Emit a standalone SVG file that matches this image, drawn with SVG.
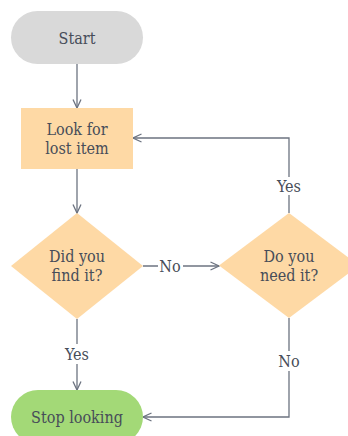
<svg xmlns="http://www.w3.org/2000/svg" width="348" height="436" viewBox="0 0 348 436">
<style>
.t{font-family:"DejaVu Serif Condensed","DejaVu Serif","Liberation Serif",serif;font-stretch:condensed;font-size:16px;fill:#474d59;text-anchor:middle;dominant-baseline:central}
.c{fill:none;stroke:#6c7380;stroke-width:1.3}
.lb{fill:#ffffff}
</style>
<defs>
<marker id="ah" viewBox="0 0 10 10" refX="9.5" refY="5" markerWidth="10" markerHeight="10" markerUnits="userSpaceOnUse" orient="auto">
<path d="M1,1 L9.5,5 L1,9" fill="none" stroke="#6c7380" stroke-width="1.3"/>
</marker>
</defs>
<rect width="348" height="436" fill="#ffffff"/>
<g id="connectors">
<path class="c" d="M77,64 V108" marker-end="url(#ah)"/>
<path class="c" d="M77,169 V213" marker-end="url(#ah)"/>
<path class="c" d="M143,266 H219" marker-end="url(#ah)"/>
<path class="c" d="M289,213 V138 H133" marker-end="url(#ah)"/>
<path class="c" d="M77,319 V390" marker-end="url(#ah)"/>
<path class="c" d="M289,318 V417 H143" marker-end="url(#ah)"/>
<rect class="lb" x="158" y="257" width="25" height="18"/>
<text class="t" x="170" y="266">No</text>
<rect class="lb" x="275" y="177" width="28" height="18"/>
<text class="t" x="289" y="186">Yes</text>
<rect class="lb" x="277" y="351" width="24" height="20"/>
<text class="t" x="289" y="361">No</text>
<rect class="lb" x="63" y="344" width="28" height="20"/>
<text class="t" x="77" y="354">Yes</text>
</g>
<g id="start">
<rect x="11" y="11" width="132" height="53" rx="26.5" fill="#d9d9d9"/>
<text class="t" x="77" y="38">Start</text>
</g>
<g id="look">
<rect x="21" y="108" width="112" height="61" fill="#fed9a5"/>
<text class="t" x="77" y="129">Look for</text>
<text class="t" x="77" y="148">lost item</text>
</g>
<g id="found">
<polygon points="77,213 143,266 77,319 11,266" fill="#fed9a5"/>
<text class="t" x="77" y="256">Did you</text>
<text class="t" x="77" y="275">find it?</text>
</g>
<g id="need">
<polygon points="289,213 359,265.5 289,318 219,265.5" fill="#fed9a5"/>
<text class="t" x="289" y="256">Do you</text>
<text class="t" x="289" y="275">need it?</text>
</g>
<g id="stop">
<rect x="11" y="390" width="132" height="54" rx="27" fill="#a3d977"/>
<text class="t" x="77" y="417">Stop looking</text>
</g>
</svg>
